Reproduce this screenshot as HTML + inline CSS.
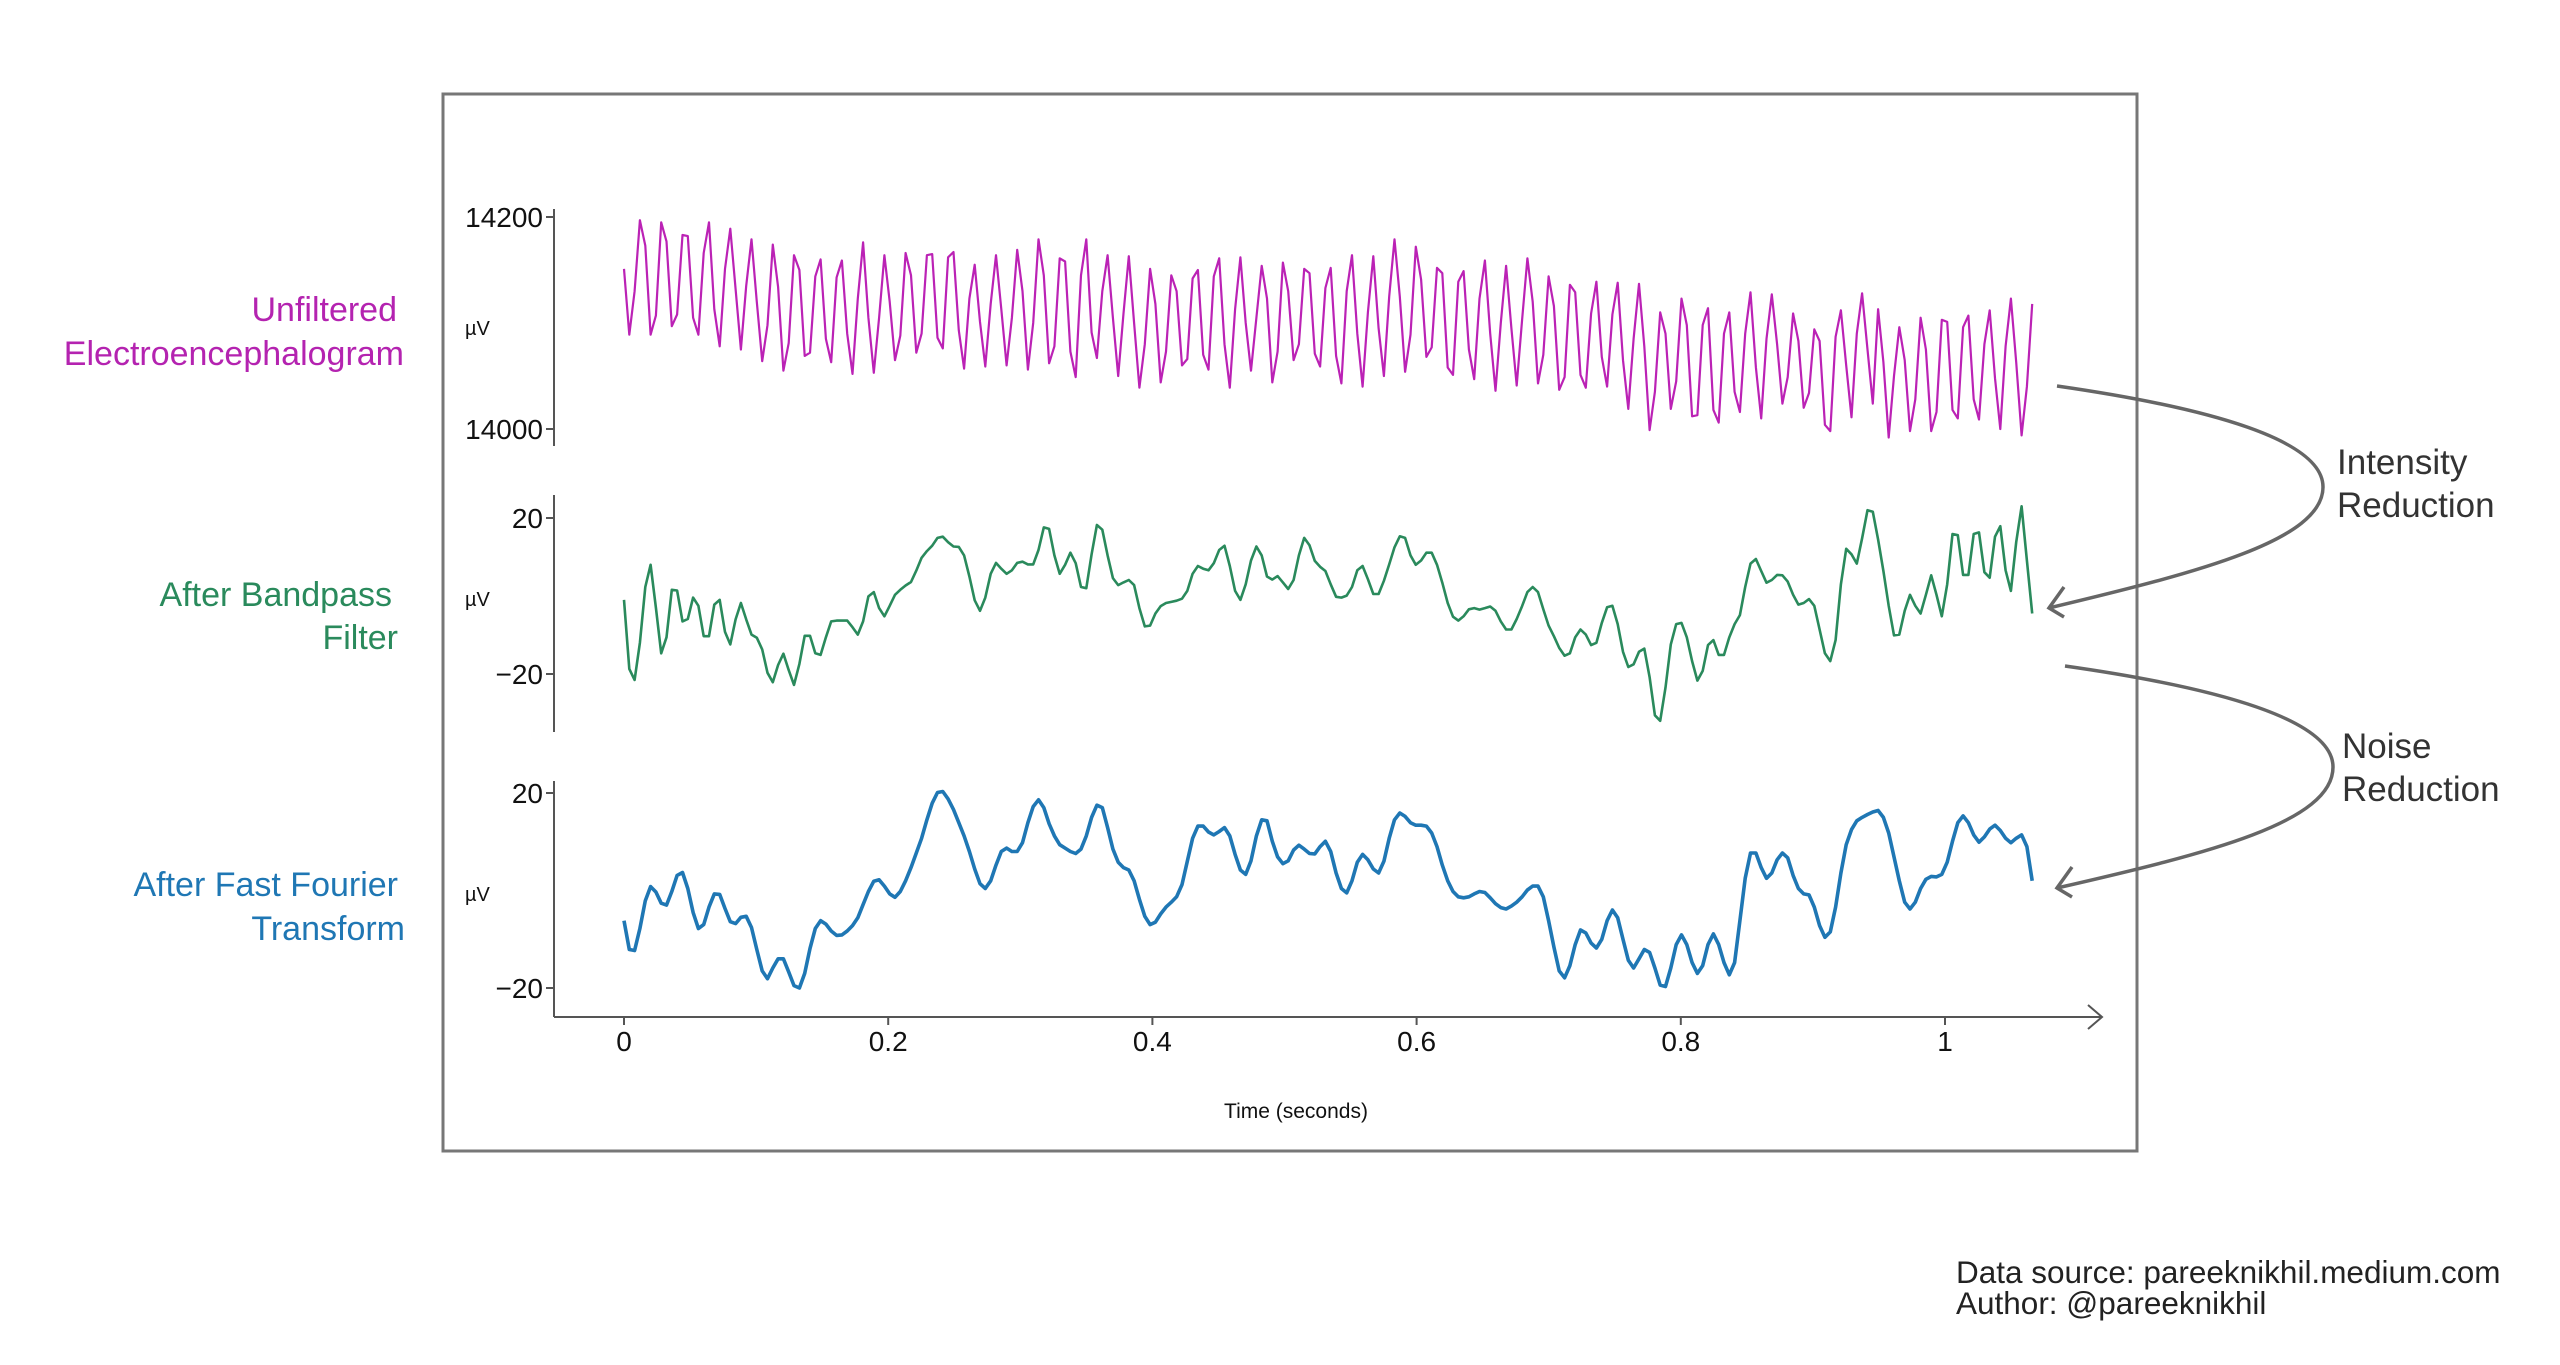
<!DOCTYPE html>
<html><head><meta charset="utf-8"><style>
html,body{margin:0;padding:0;background:#fff;}
svg{display:block;font-family:"Liberation Sans",sans-serif;}
</style></head><body>
<svg id="chart" width="2560" height="1365" viewBox="0 0 2560 1365" xmlns="http://www.w3.org/2000/svg">
<rect x="443" y="94" width="1694" height="1057" fill="none" stroke="#777" stroke-width="3"/>
<g>
<text x="397" y="321" font-size="34" fill="#b423b0" text-anchor="end">Unfiltered</text>
<text x="404" y="365" font-size="34" fill="#b423b0" text-anchor="end">Electroencephalogram</text>
<text x="392" y="606" font-size="34" fill="#2a8a5c" text-anchor="end">After Bandpass</text>
<text x="398" y="649" font-size="34" fill="#2a8a5c" text-anchor="end">Filter</text>
<text x="398" y="896" font-size="34" fill="#1f77b4" text-anchor="end">After Fast Fourier</text>
<text x="405" y="940" font-size="34" fill="#1f77b4" text-anchor="end">Transform</text>
</g>
<g font-size="20" fill="#111">
<text x="465" y="335">µV</text>
<text x="465" y="606">µV</text>
<text x="465" y="901">µV</text>
</g>
<g id="axes"></g>
<g id="series"></g>
<text x="1296" y="1118" font-size="21" fill="#111" text-anchor="middle">Time (seconds)</text>
<g fill="none" stroke="#666" stroke-width="3.5">
<path d="M2057,386 C2210,408 2323,440 2323,487 C2323,540 2200,572 2049,608"/>
<path d="M2064,587 L2049,608 L2064,617"/>
<path d="M2065,666 C2220,688 2333,720 2333,767 C2333,822 2210,853 2057,888"/>
<path d="M2072,867 L2057,888 L2072,897"/>
</g>
<g font-size="35" fill="#333">
<text x="2337" y="474">Intensity</text>
<text x="2337" y="517">Reduction</text>
<text x="2342" y="758">Noise</text>
<text x="2342" y="801">Reduction</text>
</g>
<g font-size="31.5" fill="#222">
<text x="1956" y="1283">Data source: pareeknikhil.medium.com</text>
<text x="1956" y="1314">Author: @pareeknikhil</text>
</g>
</svg>
<script>
const duration = 1.066;
const xTicks = [0, 0.2, 0.4, 0.6, 0.8, 1];
const xTickLabels = ["0", "0.2", "0.4", "0.6", "0.8", "1"];
const rawTicks = [14000, 14200];
const rawTickLabels = ["14000", "14200"];
const filtTicks = [-20, 20];
const filtTickLabels = ["\u221220", "20"];
const rawValues = [14151,14089,14130,14197,14173,14089,14107,14195,14177,14097,14108,14183,14182,14105,14089,14166,14195,14113,14078,14151,14189,14132,14075,14135,14179,14120,14064,14098,14174,14134,14055,14081,14164,14150,14069,14072,14144,14160,14085,14063,14143,14159,14090,14052,14123,14176,14105,14053,14105,14164,14120,14065,14088,14166,14145,14072,14090,14164,14165,14086,14076,14162,14167,14093,14057,14123,14155,14101,14059,14118,14164,14113,14060,14105,14169,14130,14056,14100,14179,14145,14062,14078,14161,14158,14073,14049,14145,14179,14091,14067,14130,14164,14105,14050,14109,14163,14100,14039,14080,14151,14118,14044,14073,14145,14130,14060,14066,14142,14150,14070,14056,14144,14161,14080,14039,14113,14162,14100,14055,14105,14154,14123,14044,14073,14157,14130,14065,14080,14151,14147,14071,14059,
14133,14152,14069,14043,14130,14164,14090,14040,14110,14163,14095,14050,14125,14179,14125,14054,14089,14172,14141,14068,14077,14152,14147,14058,14051,14139,14149,14075,14047,14123,14159,14090,14036,14100,14154,14095,14041,14103,14161,14120,14043,14070,14144,14116,14037,14049,14136,14129,14051,14039,14109,14139,14068,14040,14108,14138,14065,14019,14085,14137,14078,13999,14035,14110,14090,14019,14045,14123,14098,14012,14013,14098,14114,14018,14006,14090,14110,14035,14016,14090,14129,14058,14010,14085,14127,14080,14024,14049,14109,14083,14020,14034,14094,14083,14004,13998,14087,14112,14060,14011,14090,14128,14075,14024,14113,14063,13992,14050,14096,14065,13998,14028,14105,14075,13998,14016,14103,14101,14018,14010,14096,14107,14028,14009,14080,14112,14048,14000,14078,14123,14063,13994,14040,14118];
const bandValues = [-1,-18.7,-21.5,-12,2.3,8,-3,-14.7,-10.6,1.6,1.4,-6.5,-5.9,-0.4,-2.5,-10.3,-10.3,-2.2,-1,-9.2,-12.4,-6,-1.8,-6,-9.9,-10.7,-13.7,-19.7,-22.1,-17.7,-14.8,-19,-22.8,-17.4,-10.2,-10.2,-14.7,-15.1,-10.6,-6.5,-6.3,-6.3,-6.3,-8,-9.9,-6.5,-0.1,1,-3.1,-5.2,-2.5,0.3,1.6,2.7,3.6,6.5,9.8,11.5,12.9,14.9,15.2,13.8,12.7,12.6,10.4,5,-1.1,-3.8,-0.4,5.7,8.5,7,5.7,6.6,8.5,8.8,8.1,8.1,11.8,17.6,17.2,10.4,5.7,8,11.1,8.4,2.3,2,10.7,18.2,17,10.4,4.6,2.8,3.5,4.1,2.8,-3.1,-7.8,-7.6,-4.5,-2.6,-1.8,-1.5,-1.2,-0.7,1.3,5.7,7.7,7,6.6,8.4,11.8,12.9,7.7,1.3,-1,3,9.1,12.7,10.4,5,4.2,5.1,3.5,1.8,4.1,10.4,14.9,13,9,7.5,
6.4,3,-0.2,-0.4,0.1,2.3,6.6,7.7,4.3,0.5,0.5,3.9,8.1,12.5,15.3,14.9,10.4,8,9.1,11.1,11.1,8,3.4,-1.8,-5.3,-6.3,-5.2,-3.4,-3.1,-3.5,-3.1,-2.7,-3.8,-6.5,-8.6,-8.6,-5.9,-2.6,1,2.3,1,-3.4,-7.6,-10.3,-13.3,-15.3,-14.7,-10.6,-8.6,-9.9,-12.6,-12,-6.9,-2.9,-2.5,-7.2,-14.3,-18.2,-17.5,-14.3,-13.5,-20.8,-30.6,-32,-23.5,-12.4,-7.2,-6.9,-10.6,-16.7,-21.7,-19.2,-12.6,-11.3,-15.1,-15.1,-10.6,-7.2,-4.9,2.3,8.3,9.5,6.4,3.4,4.1,5.4,5.3,3.7,0.3,-2.2,-1.8,-0.8,-2.5,-8.6,-14.7,-16.7,-11.3,3,12.1,10.7,8.3,14.8,22,21.6,14.5,6.4,-2.5,-10.1,-9.9,-3.8,0.3,-2.5,-4.5,0.3,5.3,0.3,-5.2,3,15.9,15.6,5.4,5.4,15.9,16.3,6.1,4.7,15.2,17.9,6.6,1.3,13.8,23,9.1,-4.5];
const fftValues = [-6.2,-12.1,-12.3,-7.8,-2.1,0.8,-0.3,-2.6,-3,-0.2,3.1,3.7,0.4,-4.5,-7.8,-7,-3.4,-0.7,-0.8,-3.7,-6.4,-6.8,-5.5,-5.3,-7.6,-12.1,-16.5,-18.1,-15.9,-14,-14,-16.7,-19.5,-20,-17,-11.9,-7.8,-6.2,-6.9,-8.3,-9.2,-9.1,-8.3,-7.2,-5.6,-2.9,-0.2,1.9,2.2,0.9,-0.7,-1.4,-0.2,2,4.7,7.7,10.7,14.5,17.9,20.1,20.3,18.8,16.6,13.9,11.2,8,4.4,1.4,0.4,2,5.2,8,8.7,8,8,9.8,13.9,17.2,18.6,17,13.7,11.2,9.4,8.7,8,7.6,8.5,11.2,15,17.5,17,12.9,8.5,5.8,4.7,4.2,2,-1.8,-5.3,-7,-6.5,-4.8,-3.4,-2.4,-1.3,1.2,6,10.7,13.2,13.2,12,11.4,12.1,12.9,11.2,7.4,4.2,3.3,6.1,11.2,14.5,14.3,10.1,6.9,5.5,6.1,8.3,9.3,8.5,7.6,7.5,9,
10.1,8,3.6,0.4,-0.5,2,5.8,7.4,6.3,4.4,3.6,6,10.7,14.5,15.9,15.2,13.9,13.4,13.4,13.2,11.8,9,5.2,2,-0.2,-1.3,-1.5,-1.3,-0.7,-0.2,-0.4,-1.5,-2.7,-3.5,-3.8,-3.2,-2.4,-1.3,0.1,0.9,0.9,-1.3,-6.2,-11.6,-16.5,-17.9,-15.4,-11.1,-8.1,-8.7,-10.8,-11.8,-10,-6.2,-4,-5.6,-10,-14.3,-15.9,-14,-12.1,-12.7,-15.9,-19.4,-19.7,-15.9,-11.1,-9.1,-11.1,-14.8,-17,-15.4,-11.1,-8.9,-11.1,-14.8,-17.3,-14.8,-6.2,2.5,7.7,7.7,4.7,2.5,3.6,6.3,7.7,6.7,3.1,0.4,-0.7,-0.9,-3.4,-7.2,-9.6,-8.5,-3.4,3.6,9.4,12.5,14.3,15,15.6,16.1,16.4,15,11.8,6.9,2,-2.4,-3.8,-2.4,0.4,2.3,2.9,2.8,3.3,5.8,10.1,13.9,15.3,13.9,11.4,9.9,11,12.6,13.4,12.3,10.7,9.8,10.7,11.4,9,2];

const NS = "http://www.w3.org/2000/svg";
const axesG = document.getElementById('axes');
const seriesG = document.getElementById('series');
const xScale = t => 624 + (t / 1) * 1321;
const yRaw = v => 429 - (v - 14000) * (212 / 200);
const yBand = v => 596 - v * (156 / 40);
const yFft = v => 890.5 - v * (195 / 40);

function mk(tag, attrs) {
  const el = document.createElementNS(NS, tag);
  for (const k in attrs) el.setAttribute(k, attrs[k]);
  return el;
}

const xLine = mk('path', {d: 'M554,1017 L2102,1017 M2088,1005 L2102,1017 L2088,1029', fill: 'none', stroke: '#555', 'stroke-width': 2});


axesG.appendChild(xLine);
xTicks.forEach((t, i) => {
  const x = xScale(t);
  const tk = mk('line', {x1: x, x2: x, y1: 1017, y2: 1025, stroke: '#555', 'stroke-width': 2});
  
  
  axesG.appendChild(tk);
  const lb = mk('text', {x: x, y: 1051, 'font-size': 28, fill: '#111', 'text-anchor': 'middle'});
  lb.textContent = xTickLabels[i];
  
  
  axesG.appendChild(lb);
});

function yAxis(top, bottom, ticks, labels, scale, name) {
  const sp = mk('line', {x1: 554, x2: 554, y1: top, y2: bottom, stroke: '#555', 'stroke-width': 2});
  
  
  axesG.appendChild(sp);
  ticks.forEach((v, i) => {
    const y = scale(v);
    const tk = mk('line', {x1: 546, x2: 554, y1: y, y2: y, stroke: '#555', 'stroke-width': 2});
    
    
    axesG.appendChild(tk);
    const lb = mk('text', {x: 543, y: y + 10, 'font-size': 28, fill: '#111', 'text-anchor': 'end'});
    lb.textContent = labels[i];
    
    
    axesG.appendChild(lb);
  });
}
yAxis(209, 446, rawTicks, rawTickLabels, yRaw, 'raw-y');
yAxis(495, 732, filtTicks, filtTickLabels, yBand, 'band-y');
yAxis(781, 1017, filtTicks, filtTickLabels, yFft, 'fft-y');

function line(vals, scale, color, w, name) {
  const n = vals.length;
  const d = vals.map((v, i) => (i ? 'L' : 'M') + xScale(i * duration / (n - 1)).toFixed(1) + ',' + scale(v).toFixed(1)).join(' ');
  const p = mk('path', {d: d, fill: 'none', stroke: color, 'stroke-width': w, 'stroke-linejoin': 'round'});
  
  
  seriesG.appendChild(p);
}
line(rawValues, yRaw, '#bb22b5', 2.2, 'unfiltered-eeg-line');
line(bandValues, yBand, '#2a8a5c', 2.6, 'bandpass-line');
line(fftValues, yFft, '#1f77b4', 3.6, 'fft-line');
</script>
</body></html>
